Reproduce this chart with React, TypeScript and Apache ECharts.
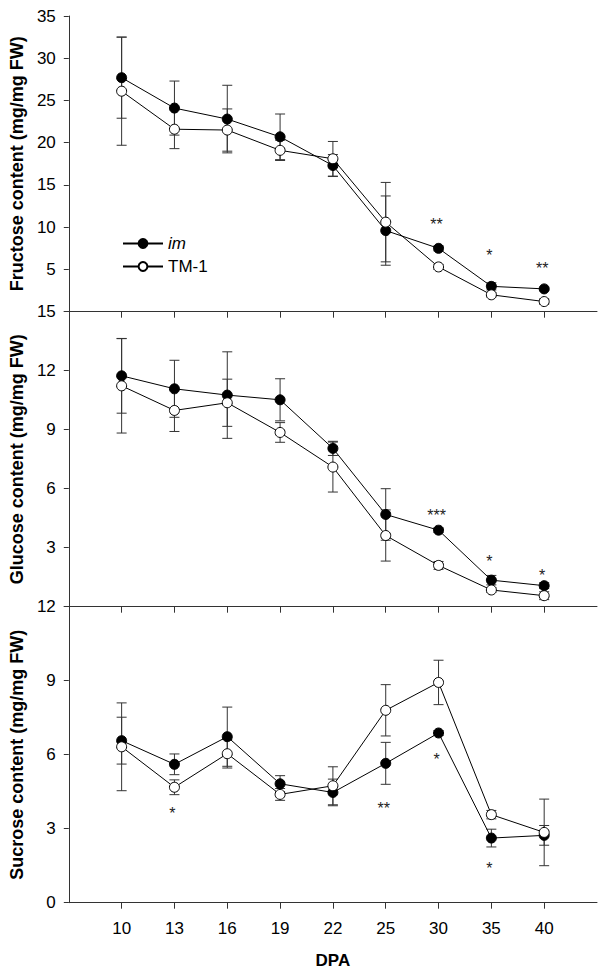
import React, { useEffect, useRef } from "react";
import * as echarts from "echarts";

const DPA = ["10", "13", "16", "19", "22", "25", "30", "35", "40"];

const fructoseIm = [27.7, 24.1, 22.8, 20.7, 17.3, 9.6, 7.5, 3.0, 2.7];
const fructoseImErr = [4.8, 3.2, 4.0, 2.7, 1.3, 4.1, 0.3, 0.43, 0.2];
const fructoseTM = [26.1, 21.6, 21.5, 19.1, 18.1, 10.6, 5.3, 2.0, 1.2];
const fructoseTMErr = [6.4, 2.3, 2.5, 1.2, 2.05, 4.7, 0.3, 0.25, 0.3];

const glucoseIm = [11.74, 11.08, 10.76, 10.52, 8.05, 4.69, 3.89, 1.35, 1.07];
const glucoseImErr = [1.9, 1.45, 2.2, 1.07, 0.36, 1.31, 0.12, 0.24, 0.15];
const glucoseTM = [11.23, 9.98, 10.37, 8.86, 7.1, 3.62, 2.1, 0.85, 0.56];
const glucoseTMErr = [2.4, 1.07, 1.2, 0.5, 1.27, 1.3, 0.2, 0.12, 0.2];

const sucroseIm = [6.57, 5.61, 6.73, 4.82, 4.47, 5.65, 6.88, 2.62, 2.73];
const sucroseImErr = [0.95, 0.42, 1.2, 0.33, 0.54, 0.85, 0.1, 0.36, 0.4];
const sucroseTM = [6.32, 4.68, 6.04, 4.39, 4.74, 7.8, 8.93, 3.57, 2.85];
const sucroseTMErr = [1.78, 0.3, 0.58, 0.24, 0.77, 1.04, 0.9, 0.17, 1.35];

// significance marks: category index, vertical position (data units), text
const fructoseStarIdx = [6, 7, 8];
const fructoseStarY = [10.85, 7.07, 5.53];
const fructoseStarText = ["**", "*", "**"];
const glucoseStarIdx = [6, 7, 8];
const glucoseStarY = [4.86, 2.49, 1.78];
const glucoseStarText = ["***", "*", "*"];
const sucroseStarIdx = [1, 5, 6, 7];
const sucroseStarY = [3.76, 4.0, 5.95, 1.56];
const sucroseStarText = ["*", "**", "*", "*"];

const yTitles = [
  "Fructose content (mg/mg FW)",
  "Glucose content (mg/mg FW)",
  "Sucrose content (mg/mg FW)",
];
const yMax = [35, 15, 12];
const yStep = [5, 3, 3];

const FONT = "'Liberation Sans', Arial, sans-serif";
const AXIS = "#333";

export default function App() {
  const ref = useRef<HTMLDivElement>(null);
  useEffect(() => {
    if (!ref.current) return;
    const chart = echarts.init(ref.current, null, { renderer: "svg" });

    const left = 68;
    const width = 529;
    const tops = [16, 311.7, 606.7];
    const heights = [295.7, 295, 296];
    const idx = DPA.map((_, i) => i);

    const grids = tops.map((t, i) => ({ left, top: t, width, height: heights[i] }));

    const xAxes = tops.map((_, i) => ({
      type: "value",
      gridIndex: i,
      min: -1,
      max: 9,
      interval: 1,
      splitLine: { show: false },
      axisLine: { show: true, onZero: false, lineStyle: { color: AXIS, width: 1 } },
      axisTick: { show: true, length: 6, customValues: idx, lineStyle: { color: AXIS } },
      axisLabel: {
        show: i === 2,
        customValues: idx,
        margin: 17,
        fontSize: 17,
        color: "#000",
        fontFamily: FONT,
        formatter: (v: number) => DPA[Math.round(v)] ?? "",
      },
      name: i === 2 ? "DPA" : "",
      nameLocation: "middle",
      nameGap: 49,
      nameTextStyle: { fontSize: 17, fontWeight: "bold", color: "#000", fontFamily: FONT },
    }));

    const yAxes = tops.map((_, i) => ({
      type: "value",
      gridIndex: i,
      min: 0,
      max: yMax[i],
      interval: yStep[i],
      splitLine: { show: false },
      axisLine: { show: true, onZero: false, lineStyle: { color: AXIS, width: 1 } },
      axisTick: { show: true, length: 5, lineStyle: { color: AXIS } },
      axisLabel: {
        margin: 13,
        fontSize: 17,
        color: "#000",
        fontFamily: FONT,
        formatter: (v: number) => (i < 2 && v === 0 ? "" : String(v)),
      },
      name: yTitles[i],
      nameLocation: "middle",
      nameRotate: 90,
      nameGap: 40,
      nameTextStyle: { fontSize: 18, fontWeight: "bold", color: "#000", fontFamily: FONT },
    }));

    const errSeries = (g: number, vals: number[], errs: number[]) => ({
      type: "custom",
      xAxisIndex: g,
      yAxisIndex: g,
      silent: true,
      z: 1,
      data: vals.map((v, i) => [i, v - errs[i], v + errs[i]]),
      encode: { x: 0, y: [1, 2] },
      renderItem: (_p: any, api: any) => {
        const x = api.value(0);
        const lo = api.coord([x, api.value(1)]);
        const hi = api.coord([x, api.value(2)]);
        const hw = 5;
        const style = { stroke: "#333", lineWidth: 1 };
        return {
          type: "group",
          children: [
            { type: "line", shape: { x1: lo[0], y1: lo[1], x2: hi[0], y2: hi[1] }, style },
            { type: "line", shape: { x1: lo[0] - hw, y1: lo[1], x2: lo[0] + hw, y2: lo[1] }, style },
            { type: "line", shape: { x1: hi[0] - hw, y1: hi[1], x2: hi[0] + hw, y2: hi[1] }, style },
          ],
        };
      },
    });

    const lineSeries = (g: number, name: string, vals: number[], filled: boolean) => ({
      type: "line",
      name,
      xAxisIndex: g,
      yAxisIndex: g,
      z: 3,
      data: vals.map((v, i) => [i, v]),
      symbol: "circle",
      symbolSize: 10,
      showSymbol: true,
      lineStyle: { color: "#000", width: 1 },
      itemStyle: filled
        ? { color: "#000", borderColor: "#000", borderWidth: 1 }
        : { color: "#fff", borderColor: "#000", borderWidth: 1 },
      emphasis: { disabled: true },
    });

    const starSeries = (g: number, ids: number[], ys: number[], texts: string[]) => ({
      type: "custom",
      xAxisIndex: g,
      yAxisIndex: g,
      silent: true,
      z: 4,
      data: ids.map((id, k) => [id, ys[k], k]),
      encode: { x: 0, y: 1 },
      renderItem: (_p: any, api: any) => {
        const p = api.coord([api.value(0), api.value(1)]);
        const t = texts[api.value(2)];
        return {
          type: "text",
          x: p[0] - 2,
          y: p[1] + 4,
          style: {
            text: t,
            fill: "#222",
            font: `16px ${FONT}`,
            align: "center",
            verticalAlign: "middle",
          },
        };
      },
    });

    const groups = [
      [fructoseIm, fructoseImErr, fructoseTM, fructoseTMErr, fructoseStarIdx, fructoseStarY, fructoseStarText],
      [glucoseIm, glucoseImErr, glucoseTM, glucoseTMErr, glucoseStarIdx, glucoseStarY, glucoseStarText],
      [sucroseIm, sucroseImErr, sucroseTM, sucroseTMErr, sucroseStarIdx, sucroseStarY, sucroseStarText],
    ] as any[];

    const series: any[] = [];
    groups.forEach((gp, g) => {
      series.push(errSeries(g, gp[2], gp[3]));
      series.push(errSeries(g, gp[0], gp[1]));
      series.push(lineSeries(g, "im", gp[0], true));
      series.push(lineSeries(g, "TM-1", gp[2], false));
      series.push(starSeries(g, gp[4], gp[5], gp[6]));
    });

    chart.setOption({
      animation: false,
      backgroundColor: "#fff",
      textStyle: { fontFamily: FONT },
      legend: {
        data: ["im", "TM-1"],
        orient: "vertical",
        left: 122,
        top: 235,
        padding: 0,
        itemWidth: 40,
        itemHeight: 11,
        itemGap: 6,
        selectedMode: false,
        formatter: (n: string) => (n === "im" ? "{i|im}" : "{n|" + n + "}"),
        textStyle: {
          fontSize: 17,
          color: "#000",
          fontFamily: FONT,
          rich: {
            i: { fontStyle: "italic", fontSize: 17, color: "#000", fontFamily: FONT },
            n: { fontSize: 17, color: "#000", fontFamily: FONT },
          },
        },
      },
      grid: grids,
      xAxis: xAxes,
      yAxis: yAxes,
      series,
    });

    return () => chart.dispose();
  }, []);

  return (
    <div
      ref={ref}
      style={{ position: "absolute", left: 0, top: 0, width: 600, height: 973, background: "#fff" }}
    />
  );
}
